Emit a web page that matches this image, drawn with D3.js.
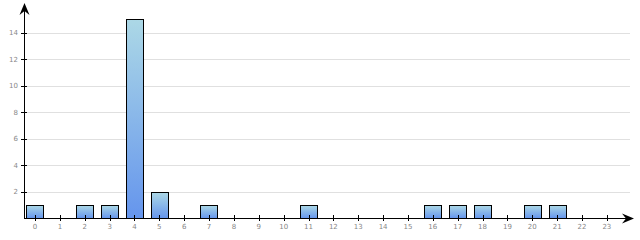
<!DOCTYPE html>
<html>
<head>
<meta charset="utf-8">
<script src="https://cdn.jsdelivr.net/npm/d3@7"></script>
<style>
  body { margin: 0; background: #fff; }
  svg text { font-family: "DejaVu Sans", sans-serif; }
</style>
</head>
<body>
<div id="chart"></div>
<script>
const hours = d3.range(0, 24);
const counts = [1, 0, 1, 1, 15, 2, 0, 1, 0, 0, 0, 1, 0, 0, 0, 0, 1, 1, 1, 0, 1, 1, 0, 0];
const yTicks = [2, 4, 6, 8, 10, 12, 14];

const width = 640, height = 240;
const axisX = 24, baseY = 218;

const svg = d3.select("#chart")
  .append("svg")
  .attr("width", width)
  .attr("height", height);

const defs = svg.append("defs");
const grad = defs.append("linearGradient")
  .attr("id", "barGrad")
  .attr("x1", 0).attr("y1", 0).attr("x2", 0).attr("y2", 1);
grad.append("stop").attr("offset", "0%").attr("stop-color", "#acd8e6");
grad.append("stop").attr("offset", "100%").attr("stop-color", "#6595ed");

const x = d3.scaleBand()
  .domain(hours)
  .range([22.6, 619.3])
  .paddingInner(0.31)
  .paddingOuter(0.155);

const y = d3.scaleLinear()
  .domain([0, 15])
  .range([baseY, 19.3]);

// grid lines
svg.append("g")
  .selectAll("line")
  .data(yTicks)
  .enter()
  .append("line")
  .attr("x1", axisX)
  .attr("x2", 630)
  .attr("y1", d => Math.round(y(d)) + 0.5)
  .attr("y2", d => Math.round(y(d)) + 0.5)
  .attr("stroke", "#e0e0e0")
  .attr("stroke-width", 1);

// bars
svg.append("g")
  .selectAll("rect")
  .data(counts.map((v, i) => ({ hour: hours[i], value: v })).filter(d => d.value > 0))
  .enter()
  .append("rect")
  .attr("x", d => Math.round(x(d.hour)) + 0.5)
  .attr("y", d => Math.round(y(d.value)) + 0.5)
  .attr("width", d => Math.round(x.bandwidth()))
  .attr("height", d => Math.round(baseY - y(d.value)))
  .attr("fill", "url(#barGrad)")
  .attr("stroke", "#000")
  .attr("stroke-width", 1);

// y axis
svg.append("line")
  .attr("x1", axisX + 0.5).attr("x2", axisX + 0.5)
  .attr("y1", baseY + 0.5).attr("y2", 4)
  .attr("stroke", "#000");
svg.append("path")
  .attr("d", `M${axisX + 0.5},3 L${axisX + 5.5},15 L${axisX + 0.5},11 L${axisX - 4.5},15 Z`)
  .attr("fill", "#000");

svg.append("g")
  .selectAll("line")
  .data(yTicks)
  .enter()
  .append("line")
  .attr("x1", axisX - 3)
  .attr("x2", axisX + 3)
  .attr("y1", d => Math.round(y(d)) + 0.5)
  .attr("y2", d => Math.round(y(d)) + 0.5)
  .attr("stroke", "#000");

svg.append("g")
  .selectAll("text")
  .data(yTicks)
  .enter()
  .append("text")
  .attr("x", axisX - 6)
  .attr("y", d => y(d) + 2.5)
  .attr("text-anchor", "end")
  .attr("font-size", "7px")
  .attr("fill", "#888")
  .text(d => d);

// x axis
svg.append("line")
  .attr("x1", axisX).attr("x2", 630)
  .attr("y1", baseY + 0.5).attr("y2", baseY + 0.5)
  .attr("stroke", "#000");
svg.append("path")
  .attr("d", `M634,${baseY + 0.5} L622,${baseY - 4.5} L626,${baseY + 0.5} L622,${baseY + 5.5} Z`)
  .attr("fill", "#000");

svg.append("g")
  .selectAll("line")
  .data(hours)
  .enter()
  .append("line")
  .attr("x1", d => Math.round(x(d) + x.bandwidth() / 2) + 0.5)
  .attr("x2", d => Math.round(x(d) + x.bandwidth() / 2) + 0.5)
  .attr("y1", baseY - 3)
  .attr("y2", baseY + 3)
  .attr("stroke", "#000");

svg.append("g")
  .selectAll("text")
  .data(hours)
  .enter()
  .append("text")
  .attr("x", d => x(d) + x.bandwidth() / 2)
  .attr("y", 229)
  .attr("text-anchor", "middle")
  .attr("font-size", "7px")
  .attr("fill", "#888")
  .text(d => d);
</script>
</body>
</html>
